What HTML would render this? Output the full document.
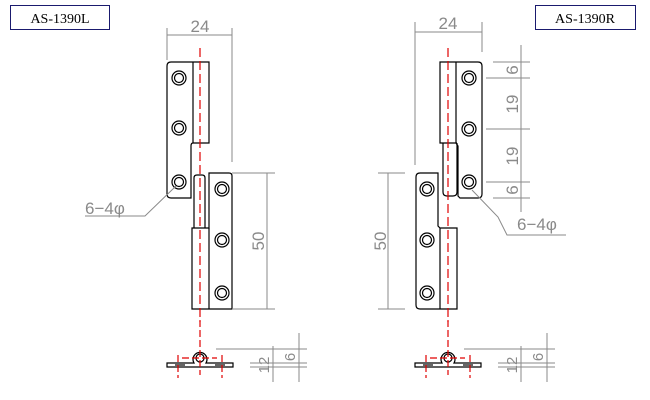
<!DOCTYPE html>
<html><head><meta charset="utf-8"><style>
html,body{margin:0;padding:0;background:#fff;width:650px;height:400px;overflow:hidden}
svg{display:block}
.dim{stroke:#8a8a8a;stroke-width:1;fill:none}
.o{stroke:#000;stroke-width:1.2;fill:none}
.r{stroke:#e00000;stroke-width:1.2;fill:none;stroke-dasharray:9,4}
.t{font-family:"Liberation Sans",sans-serif;fill:#8a8a8a;font-size:17px}
.box{font-family:"Liberation Serif",serif;font-size:14px;fill:#000}
</style></head><body>
<svg width="650" height="400" viewBox="0 0 650 400" xmlns="http://www.w3.org/2000/svg">
<rect x="10.5" y="5.5" width="99" height="24" fill="#fff" stroke="#1a1a6e" stroke-width="1"/>
<text x="60" y="23" text-anchor="middle" class="box">AS-1390L</text>
<rect x="535.5" y="5.5" width="100" height="24" fill="#fff" stroke="#1a1a6e" stroke-width="1"/>
<text x="585" y="23" text-anchor="middle" class="box">AS-1390R</text>

<!-- LEFT HINGE -->
<g>
<path class="o" d="M193,143 L209,143 L209,62 L171,62 Q167,62 167,66 L167,194 Q167,198 171,198 L191,198 L191,146 Q191,143 193,143 Z"/>
<line class="o" x1="193" y1="62" x2="193" y2="143"/>
<path class="o" d="M194,228 L194,178 Q194,175 197,175 L202,175 Q205,175 205,178 L205,228"/>
<path class="o" d="M192,228 L209,228 L209,173 L229,173 Q232,173 232,176 L232,309 L192,309 Z"/>
<line class="o" x1="209" y1="228" x2="209" y2="309"/>
<g class="o">
<circle cx="179" cy="78" r="7"/><circle cx="179" cy="78" r="4.5"/>
<circle cx="179" cy="128" r="7"/><circle cx="179" cy="128" r="4.5"/>
<circle cx="179" cy="182" r="7"/><circle cx="179" cy="182" r="4.5"/>
<circle cx="222" cy="189" r="7"/><circle cx="222" cy="189" r="4.5"/>
<circle cx="222" cy="240" r="7"/><circle cx="222" cy="240" r="4.5"/>
<circle cx="222" cy="293" r="7"/><circle cx="222" cy="293" r="4.5"/>
</g>
<line class="r" x1="200" y1="48" x2="200" y2="322"/>
<g class="dim">
<line x1="167" y1="28" x2="167" y2="60"/><line x1="232" y1="28" x2="232" y2="162"/>
<line x1="167" y1="35" x2="232" y2="35"/>
<line x1="232" y1="173" x2="275" y2="173"/><line x1="232" y1="309" x2="275" y2="309"/>
<line x1="267" y1="173" x2="267" y2="309"/>
<polyline points="85,216 145,216 176,186"/>
</g>
<text x="200" y="32" text-anchor="middle" class="t">24</text>
<text transform="translate(264,241) rotate(-90)" text-anchor="middle" class="t">50</text>
<text x="85" y="214" class="t">6−4φ</text>
</g>

<!-- RIGHT HINGE -->
<g>
<path class="o" d="M457,143 L440,143 L440,62 L478,62 Q482,62 482,66 L482,194 Q482,198 478,198 L460,198 L458,196 L458,146 L456,143"/>
<line class="o" x1="456" y1="62" x2="456" y2="143"/>
<path class="o" d="M443,143 L443,192 Q443,196 447,196 L453,196 Q457,196 457,192 L457,143"/>
<path class="o" d="M457,228 L440,228 L438,226 L438,173 L420,173 Q416,173 416,177 L416,305 Q416,309 420,309 L457,309 Z"/>
<line class="o" x1="440" y1="228" x2="440" y2="309"/>
<g class="o">
<circle cx="469" cy="78" r="7"/><circle cx="469" cy="78" r="4.5"/>
<circle cx="469" cy="129" r="7"/><circle cx="469" cy="129" r="4.5"/>
<circle cx="469" cy="182" r="7"/><circle cx="469" cy="182" r="4.5"/>
<circle cx="427" cy="189" r="7"/><circle cx="427" cy="189" r="4.5"/>
<circle cx="427" cy="240" r="7"/><circle cx="427" cy="240" r="4.5"/>
<circle cx="427" cy="293" r="7"/><circle cx="427" cy="293" r="4.5"/>
</g>
<line class="r" x1="448" y1="48" x2="448" y2="322"/>
<g class="dim">
<line x1="415" y1="22" x2="415" y2="165"/><line x1="482" y1="22" x2="482" y2="52"/>
<line x1="415" y1="32" x2="482" y2="32"/>
<line x1="378" y1="173" x2="405" y2="173"/><line x1="378" y1="309" x2="405" y2="309"/>
<line x1="388" y1="173" x2="388" y2="309"/>
<line x1="521" y1="45" x2="521" y2="212"/>
<line x1="493" y1="62" x2="530" y2="62"/>
<line x1="486" y1="78" x2="530" y2="78"/>
<line x1="486" y1="129" x2="530" y2="129"/>
<line x1="486" y1="182" x2="530" y2="182"/>
<line x1="493" y1="198" x2="530" y2="198"/>
<polyline points="472,190 498,217 507,235 566,235"/>
</g>
<text x="448" y="29" text-anchor="middle" class="t">24</text>
<text transform="translate(386,241) rotate(-90)" text-anchor="middle" class="t">50</text>
<text transform="translate(518,70) rotate(-90)" text-anchor="middle" class="t">6</text>
<text transform="translate(518,104) rotate(-90)" text-anchor="middle" class="t">19</text>
<text transform="translate(518,156) rotate(-90)" text-anchor="middle" class="t">19</text>
<text transform="translate(518,190) rotate(-90)" text-anchor="middle" class="t">6</text>
<text x="517" y="230" class="t">6−4φ</text>
</g>

<!-- BOTTOM VIEWS -->
<g id="bv">
<path class="o" d="M167,363 L194,363 A7,7 0 1 1 206,363 L233,363 L233,367 L167,367 Z"/>
<circle class="o" cx="200" cy="358" r="4"/>
<line class="o" x1="175" y1="365" x2="185" y2="365"/><line class="o" x1="215" y1="365" x2="225" y2="365"/>
<line class="r" x1="200" y1="320" x2="200" y2="375" style="stroke-dasharray:7,3"/>
<line class="r" x1="182" y1="358" x2="217" y2="358" style="stroke-dasharray:7,3"/>
<line class="r" x1="178" y1="355" x2="178" y2="378" style="stroke-dasharray:7,3"/>
<line class="r" x1="222" y1="355" x2="222" y2="378" style="stroke-dasharray:7,3"/>
<g class="dim">
<line x1="216" y1="349" x2="307" y2="349"/>
<line x1="250" y1="363" x2="307" y2="363"/>
<line x1="250" y1="367" x2="307" y2="367"/>
<line x1="273" y1="346" x2="273" y2="382"/>
<line x1="299" y1="333" x2="299" y2="382"/>
</g>
<text transform="translate(269,365) rotate(-90)" text-anchor="middle" class="t" style="font-size:15px">12</text>
<text transform="translate(295,357) rotate(-90)" text-anchor="middle" class="t" style="font-size:15px">6</text>
</g>
<use href="#bv" x="248"/>
</svg>
</body></html>
